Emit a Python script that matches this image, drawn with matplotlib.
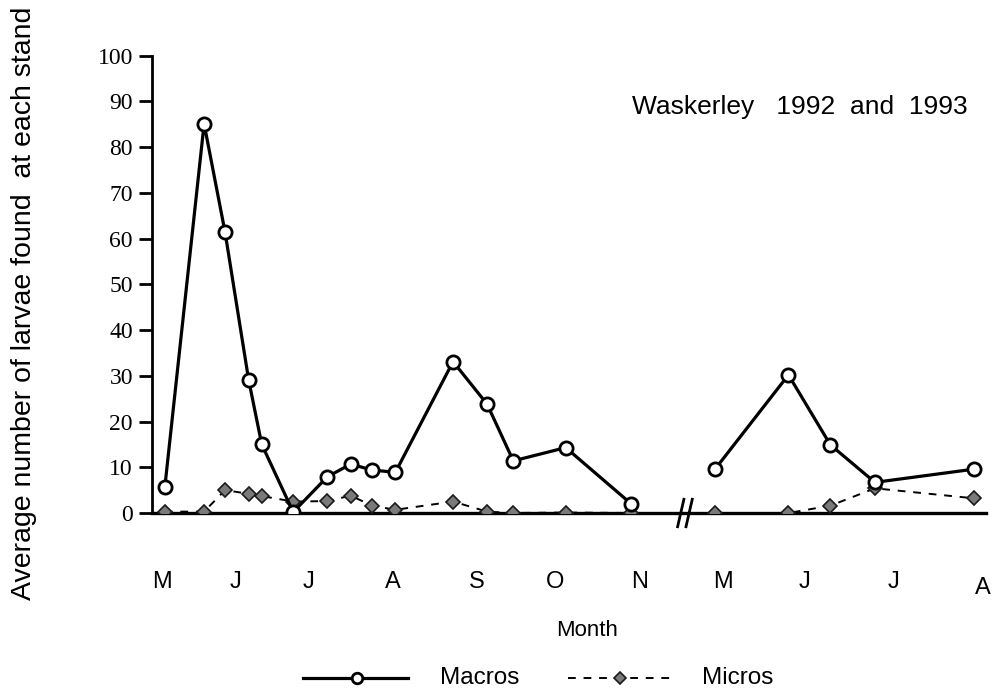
import matplotlib
matplotlib.use("Agg")
import matplotlib.pyplot as plt
from matplotlib.lines import Line2D

# sampling dates, days since 1 May 1992 (winter gap Nov 92 - May 93 collapsed)
sample_days = [5, 20, 28, 37, 42, 54, 67, 76, 84, 93, 115, 128, 138, 158, 183,
               215, 243, 259, 276, 314]
macros = [5.6, 85.1, 61.4, 29.1, 15.0, 0.2, 7.9, 10.7, 9.4, 8.9, 33.1, 23.8,
          11.4, 14.3, 2.0, 9.6, 30.2, 14.9, 6.7, 9.6]
micros = [0.3, 0.3, 5.0, 4.2, 3.7, 2.5, 2.6, 3.8, 1.6, 0.7, 2.5, 0.3, 0.0,
          0.1, 0.0, 0.0, 0.0, 1.6, 5.4, 3.2]
break_index = 15  # first sample of 1993

month_labels = ["M", "J", "J", "A", "S", "O", "N", "M", "J", "J", "A"]
month_pos = [4, 32, 60, 92, 124, 154, 186, 218, 249, 283, 317]
yticks = [0, 10, 20, 30, 40, 50, 60, 70, 80, 90, 100]

sans = "Liberation Sans"
serif = "Liberation Serif"

W, H = 998, 691
fig = plt.figure(figsize=(W / 100, H / 100), dpi=100)
ax = fig.add_axes([0.152, 0.2576, 0.836, 0.6618])
ax.set_xlim(0, 318.4)
ax.set_ylim(0, 100)

mic_style = dict(linestyle=(0, (4, 4)), color="black", lw=1.4, marker="D",
                 markersize=7.5, markerfacecolor="#7a7a7a",
                 markeredgecolor="#1a1a1a", markeredgewidth=1.2)
mac_style = dict(linestyle="-", color="black", lw=2.3, marker="o",
                 markersize=9.5, markerfacecolor="white",
                 markeredgecolor="black", markeredgewidth=2.0)

for sl in (slice(0, break_index), slice(break_index, None)):
    ax.plot(sample_days[sl], micros[sl], zorder=3, **mic_style)
    ax.plot(sample_days[sl], macros[sl], zorder=4, **mac_style)

for s in ("top", "right"):
    ax.spines[s].set_visible(False)
ax.spines["left"].set_linewidth(2.0)
ax.spines["bottom"].set_linewidth(2.4)

ax.set_yticks(yticks)
ax.set_yticklabels([str(v) for v in yticks], fontfamily=serif, fontsize=17)
ax.tick_params(axis="y", direction="out", length=9.5, width=2.0, pad=4)
ax.set_xticks(month_pos)
ax.set_xticklabels(month_labels, fontfamily=sans, fontsize=17)
ax.tick_params(axis="x", length=0, pad=42)
ax.get_xticklabels()[-1].set_y(-0.013)

# axis break marks
brk = 203.5
for dx in (-1.6, 1.6):
    ax.plot([brk + dx - 1.2, brk + dx + 1.2], [-3.0, 3.0], color="black",
            lw=2.0, clip_on=False, zorder=5)

ax.set_ylabel("Average number of larvae found  at each stand", fontfamily=sans,
              fontsize=20.5)
ax.yaxis.set_label_coords(-0.1375, 0.458)

ax.text(0.978, 0.888, "Waskerley   1992  and  1993", transform=ax.transAxes,
        ha="right", va="center", fontfamily=sans, fontsize=19)

fig.text(587 / W, 1 - 630 / H, "Month", ha="center", va="center",
         fontfamily=sans, fontsize=16)

# legend (drawn by hand to match the original placement)
ly = 1 - 678 / H
for (x0, x1, xm, tx, label, st) in (
        (303, 408, 357, 440, "Macros", mac_style),
        (568, 672, 620, 702, "Micros", mic_style)):
    s = dict(st)
    s.pop("marker")
    ms = s.pop("markersize")
    mfc = s.pop("markerfacecolor")
    mec = s.pop("markeredgecolor")
    mew = s.pop("markeredgewidth")
    fig.add_artist(Line2D([x0 / W, x1 / W], [ly, ly], transform=fig.transFigure,
                          **s))
    fig.add_artist(Line2D([xm / W], [ly], transform=fig.transFigure,
                          linestyle="none", marker=st["marker"],
                          markersize=ms * 0.8, markerfacecolor=mfc,
                          markeredgecolor=mec, markeredgewidth=mew))
    fig.text(tx / W, ly, label, ha="left", va="center", fontfamily=sans,
             fontsize=17.5)

fig.savefig("out.png", dpi=100)
